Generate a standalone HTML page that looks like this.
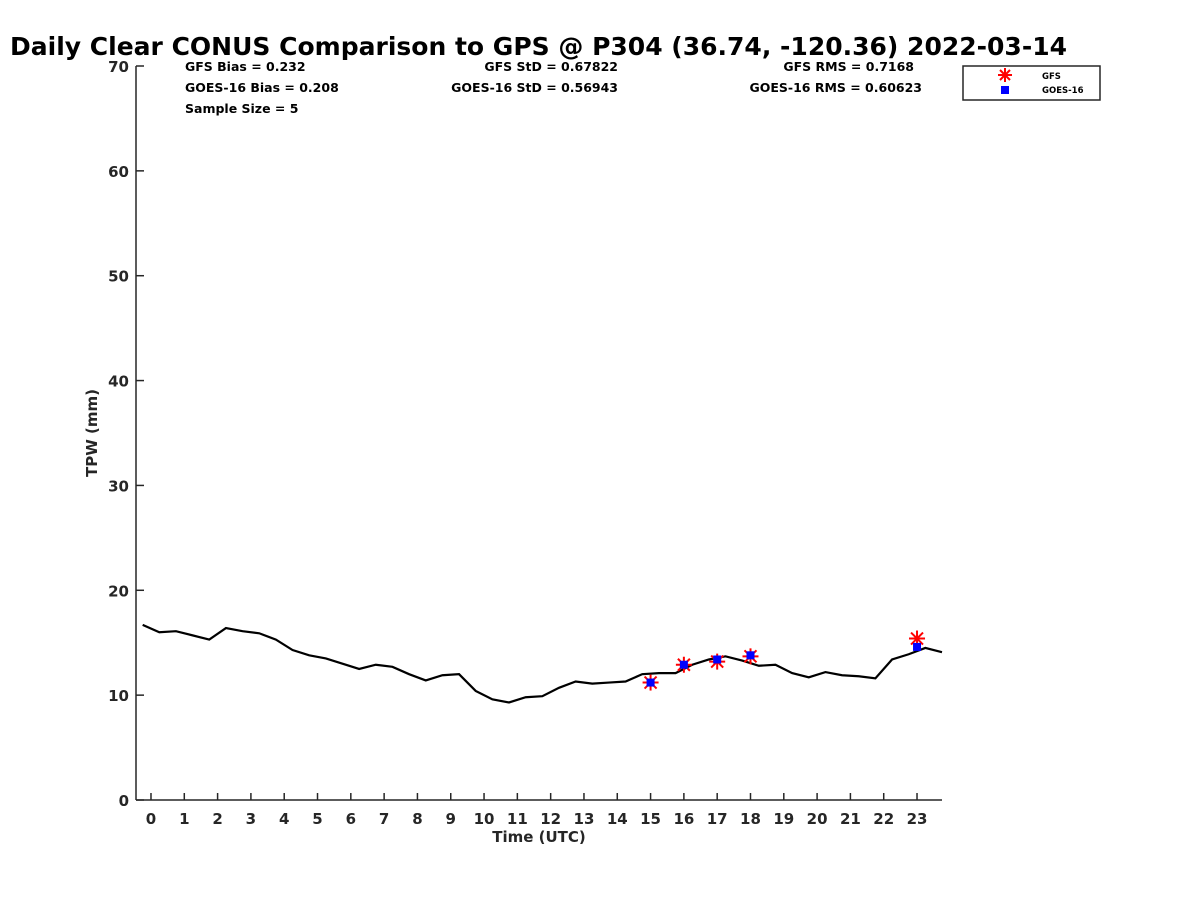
<!DOCTYPE html>
<html><head><meta charset="utf-8"><style>
body{margin:0;background:#fff;}
svg text{font-family:"DejaVu Sans","Liberation Sans",sans-serif;font-weight:bold;fill:#262626;}
</style></head><body>
<svg id="chart" width="1200" height="900" xmlns="http://www.w3.org/2000/svg">
<text x="10" y="55" textLength="1057" lengthAdjust="spacingAndGlyphs" font-size="24.5" style="fill:#000">Daily Clear CONUS Comparison to GPS @ P304 (36.74, -120.36) 2022-03-14</text>
<g font-size="12.5">
<text x="185" y="71" style="fill:#000">GFS Bias = 0.232</text>
<text x="185" y="92" style="fill:#000">GOES-16 Bias = 0.208</text>
<text x="185" y="113" style="fill:#000">Sample Size = 5</text>
<text x="618" y="71" text-anchor="end" style="fill:#000">GFS StD = 0.67822</text>
<text x="618" y="92" text-anchor="end" style="fill:#000">GOES-16 StD = 0.56943</text>
<text x="914" y="71" text-anchor="end" style="fill:#000">GFS RMS = 0.7168</text>
<text x="922" y="92" text-anchor="end" style="fill:#000">GOES-16 RMS = 0.60623</text>
</g>
<g id="axes"></g>
<g id="marks"></g>
<g>
<rect x="963" y="66" width="137" height="34" fill="#fff" stroke="#262626" stroke-width="1.5"/>
<g stroke="red" stroke-width="2">
<line x1="998" y1="75" x2="1012" y2="75"/><line x1="1005" y1="68" x2="1005" y2="82"/><line x1="1000" y1="70" x2="1010" y2="80"/><line x1="1010" y1="70" x2="1000" y2="80"/></g>
<rect x="1001" y="86" width="8" height="8" fill="blue"/>
<text x="1042" y="79" font-size="8.5" style="fill:#000">GFS</text>
<text x="1042" y="93" font-size="8.5" style="fill:#000">GOES-16</text>
</g>
<text x="539" y="842" text-anchor="middle" font-size="15">Time (UTC)</text>
<text transform="translate(97,433) rotate(-90)" text-anchor="middle" font-size="15">TPW (mm)</text>
</svg>
<script>
const gpsTimes=[-0.25,0.25,0.75,1.25,1.75,2.25,2.75,3.25,3.75,4.25,4.75,5.25,5.75,6.25,6.75,7.25,7.75,8.25,8.75,9.25,9.75,10.25,10.75,11.25,11.75,12.25,12.75,13.25,13.75,14.25,14.75,15.25,15.75,16.25,16.75,17.25,17.75,18.25,18.75,19.25,19.75,20.25,20.75,21.25,21.75,22.25,22.75,23.25,23.75];
const gpsValues=[16.7,16.0,16.1,15.7,15.3,16.4,16.1,15.9,15.3,14.3,13.8,13.5,13.0,12.5,12.9,12.7,12.0,11.4,11.9,12.0,10.4,9.6,9.3,9.8,9.9,10.7,11.3,11.1,11.2,11.3,12.0,12.1,12.1,12.9,13.4,13.7,13.3,12.8,12.9,12.1,11.7,12.2,11.9,11.8,11.6,13.4,13.9,14.5,14.1];
const sampleTimes=[15,16,17,18,23];
const gfsValues=[11.2,12.9,13.2,13.7,15.4];
const goesValues=[11.2,12.9,13.4,13.8,14.6];
const xTicks=[0,1,2,3,4,5,6,7,8,9,10,11,12,13,14,15,16,17,18,19,20,21,22,23];
const yTicks=[0,10,20,30,40,50,60,70];
const NS="http://www.w3.org/2000/svg";
const X0=136,X1=942,Y0=800,Y1=66,xmin=-0.45,xmax=23.75,ymin=0,ymax=70;
const xs=v=>X0+(v-xmin)/(xmax-xmin)*(X1-X0);
const ys=v=>Y0-(v-ymin)/(ymax-ymin)*(Y0-Y1);
function mk(t,a,p){const e=document.createElementNS(NS,t);for(const k in a)e.setAttribute(k,a[k]);p.appendChild(e);return e;}
const ax=document.getElementById('axes'),mg=document.getElementById('marks');
const xl=mk('line',{x1:X0,y1:Y0,x2:X1,y2:Y0,stroke:'#262626','stroke-width':1.5},ax);


const yl=mk('line',{x1:X0,y1:Y0,x2:X0,y2:Y1,stroke:'#262626','stroke-width':1.5},ax);


xTicks.forEach(t=>{const x=xs(t);mk('line',{x1:x,y1:Y0,x2:x,y2:Y0-7,stroke:'#262626','stroke-width':1.5},ax);
const tx=mk('text',{x:x,y:Y0+24,'text-anchor':'middle','font-size':15},ax);tx.textContent=t;

});
yTicks.forEach(t=>{const y=ys(t);mk('line',{x1:X0,y1:y,x2:X0+8,y2:y,stroke:'#262626','stroke-width':1.5},ax);
const tx=mk('text',{x:X0-7,y:y+6,'text-anchor':'end','font-size':15},ax);tx.textContent=t;

});
const pl=mk('polyline',{points:gpsTimes.map((t,i)=>xs(t)+','+ys(gpsValues[i])).join(' '),fill:'none',stroke:'#000','stroke-width':2.2},mg);


sampleTimes.forEach((t,i)=>{const x=xs(t),y=ys(gfsValues[i]);
const g=mk('g',{stroke:'red','stroke-width':2},mg);


mk('line',{x1:x-8,y1:y,x2:x+8,y2:y},g);mk('line',{x1:x,y1:y-8,x2:x,y2:y+8},g);
mk('line',{x1:x-6,y1:y-6,x2:x+6,y2:y+6},g);mk('line',{x1:x+6,y1:y-6,x2:x-6,y2:y+6},g);});
sampleTimes.forEach((t,i)=>{const x=xs(t),y=ys(goesValues[i]);
const r=mk('rect',{x:x-4,y:y-4,width:8,height:8,fill:'blue'},mg);

});
</script>
</body></html>
